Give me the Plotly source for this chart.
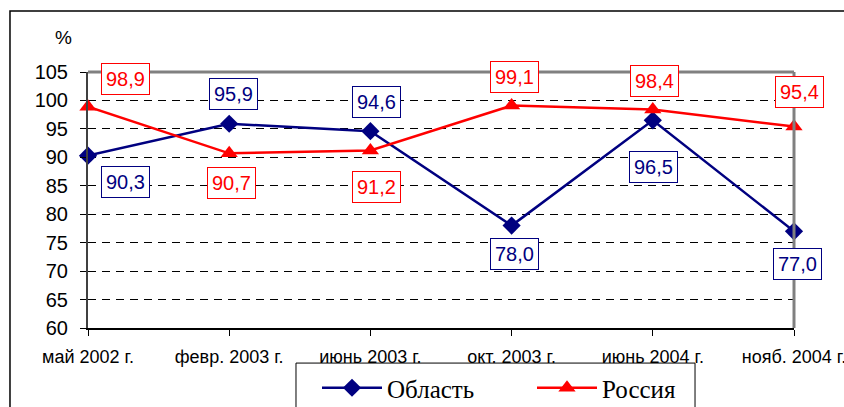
import plotly.graph_objects as go

# data
periods = ["май 2002 г.", "февр. 2003 г.", "июнь 2003 г.", "окт. 2003 г.", "июнь 2004 г.", "нояб. 2004 г."]
oblast = [90.3, 95.9, 94.6, 78.0, 96.5, 77.0]
russia = [98.9, 90.7, 91.2, 99.1, 98.4, 95.4]

NAVY = "#000080"
RED = "#FF0000"
FONT = "Liberation Sans, Arial, sans-serif"

# pixel offsets of value boxes relative to their point (dx right, dy down)
oblast_shift = [(37, 26), (4, -30), (6, -29), (3, 28), (1, 47), (3, 33)]
russia_shift = [(37, -28), (2, 30), (6, 36), (3, -29), (2, -29), (5, -35)]

xs = list(range(len(periods)))


def fmt(v):
    return f"{v:.1f}".replace(".", ",")


fig = go.Figure()
fig.add_trace(go.Scatter(
    x=xs, y=oblast, mode="lines+markers", name="Область",
    line=dict(color=NAVY, width=2.5),
    marker=dict(symbol="diamond", size=14, color=NAVY),
    cliponaxis=False,
))
fig.add_trace(go.Scatter(
    x=xs, y=russia, mode="lines+markers", name="Россия",
    line=dict(color=RED, width=2.5),
    marker=dict(symbol="triangle-up", size=15, color=RED),
    cliponaxis=False,
))

annotations = []
for vals, shifts, col in ((oblast, oblast_shift, NAVY), (russia, russia_shift, RED)):
    for i, (v, (dx, dy)) in enumerate(zip(vals, shifts)):
        annotations.append(dict(
            x=i, y=v, xref="x", yref="y", text=fmt(v), showarrow=False,
            xshift=dx, yshift=-dy,
            font=dict(family=FONT, size=20, color=col),
            bordercolor=col, borderwidth=1, borderpad=4, bgcolor="white",
        ))
annotations.append(dict(
    x=-0.034, y=1.135, xref="paper", yref="paper", text="%", showarrow=False,
    xanchor="center", yanchor="middle",
    font=dict(family=FONT, size=19, color="black"),
))

shapes = [
    # outer frame of the chart
    dict(type="rect", xref="paper", yref="paper", x0=-0.1105, x1=1.5, y0=-0.9, y1=1.238,
         line=dict(color="black", width=1.5), layer="below"),
    # legend frame
    dict(type="rect", xref="paper", yref="paper", x0=0.2946, x1=0.8598, y0=-0.5, y1=-0.137,
         line=dict(color="black", width=1), fillcolor="white", layer="below"),
    # plot area top and right border
    dict(type="line", xref="paper", yref="paper", x0=0, x1=1, y0=1, y1=1,
         line=dict(color="#808080", width=3)),
    dict(type="line", xref="paper", yref="paper", x0=1, x1=1, y0=0, y1=1,
         line=dict(color="#808080", width=3)),
]

fig.update_layout(
    width=844, height=407,
    margin=dict(l=88, r=50, t=72, b=79),
    paper_bgcolor="white", plot_bgcolor="white",
    font=dict(family=FONT, color="black"),
    annotations=annotations,
    shapes=shapes,
    showlegend=True,
    legend=dict(
        orientation="h", xref="container", yref="container",
        x=317 / 844, y=1 - 365 / 407, xanchor="left", yanchor="top",
        borderwidth=0, bgcolor="rgba(0,0,0,0)",
        font=dict(family="Liberation Serif, Times New Roman, serif", size=25, color="black"),
        entrywidth=140, itemwidth=60,
    ),
    xaxis=dict(
        range=[0, 5], tickvals=xs, ticktext=periods,
        showgrid=False, zeroline=False, automargin=False,
        showline=True, linecolor="black", linewidth=2,
        ticks="outside", ticklen=6, tickcolor="black", tickwidth=1,
        tickfont=dict(family=FONT, size=18, color="black"),
        ticklabelstandoff=5, ticklabeloverflow="allow",
    ),
    yaxis=dict(
        range=[60, 105], dtick=5, tick0=60,
        showgrid=True, gridcolor="black", gridwidth=1, griddash="8px,6px",
        zeroline=False, automargin=False,
        showline=True, linecolor="#404040", linewidth=2,
        ticks="outside", ticklen=6, tickcolor="black", tickwidth=1,
        tickfont=dict(family=FONT, size=20, color="black"),
        ticklabelstandoff=8,
    ),
)

fig.write_html("out.html", config={"displayModeBar": False},
               post_script="document.body.style.margin='0';")
